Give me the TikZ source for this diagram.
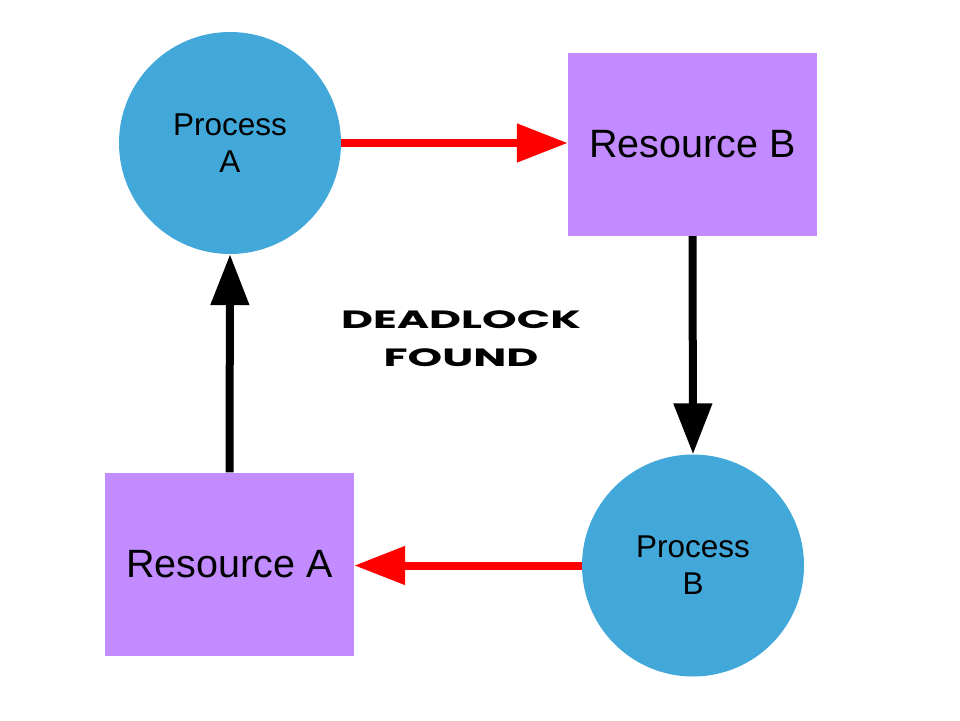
\documentclass[tikz,border=0pt]{standalone}
\usepackage{fontspec}
\setmainfont{Liberation Sans}
\newfontfamily\dlfont{Poppins}
\usetikzlibrary{arrows.meta}
\definecolor{procblue}{HTML}{42A8D9}
\definecolor{respurple}{HTML}{C28BFF}
\definecolor{arrred}{HTML}{FF0000}
\tikzset{
  procnode/.style={circle, fill=procblue, draw=none, minimum size=222pt, inner sep=0pt, align=center,
    font=\fontsize{31.5}{37}\selectfont},
  resnode/.style={rectangle, fill=respurple, draw=none, minimum width=249pt, minimum height=183pt, inner sep=0pt,
    font=\fontsize{39.5}{44}\selectfont},
  conn/.style={line width=8pt, -{Triangle[length=51pt, width=37pt]}},
  redconn/.style={conn, draw=arrred, fill=arrred},
  blackconn/.style={conn, draw=black, fill=black},
  dltext/.style={align=center, inner sep=0pt, font=\dlfont\bfseries\fontsize{25}{38}\selectfont}
}
\begin{document}
\begin{tikzpicture}[x=1pt, y=-1pt]
\useasboundingbox (0,0) rectangle (960,720);
\node[procnode] (pa) at (230,143) {\raisebox{-3pt}{Process}\\\raisebox{-3pt}{A}};
\node[resnode] (rb) at (692.5,144.5) {Resource B};
\node[procnode] (pb) at (693,565.5) {Process\\B};
\node[resnode] (ra) at (229.5,564) {Resource A};
\node[dltext] (dl) at (461,339) {\scalebox{1.76}[1]{DEADLOCK}\\\scalebox{1.76}[1]{FOUND}};
\draw[redconn] (pa.east) -- (pa.east -| rb.west);
\draw[blackconn] (rb.south) -- (pb.north);
\draw[redconn] (pb.west) -- (pb.west -| ra.east);
\draw[blackconn] (ra.north) -- (pa.south);
\end{tikzpicture}
\end{document}
